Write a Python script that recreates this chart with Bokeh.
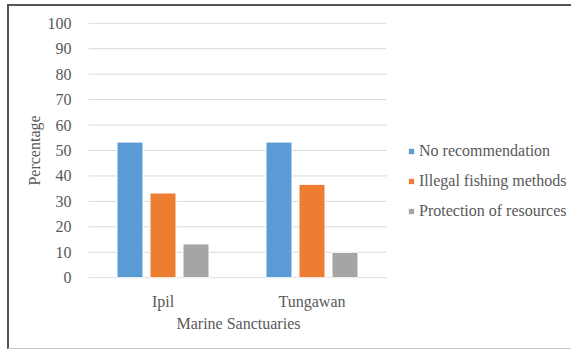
from bokeh.plotting import figure
from bokeh.models import (ColumnDataSource, Legend, LegendItem, Title,
                          SingleIntervalTicker, FixedTicker)
from bokeh.embed import file_html
from bokeh.resources import INLINE

# Data
sites = ["Ipil", "Tungawan"]
series_names = ["No recommendation", "Illegal fishing methods", "Protection of resources"]
no_recommendation = [53.3, 53.3]
illegal_fishing = [33.3, 36.7]
protection = [13.3, 10.0]
series_colors = ["#5B9BD5", "#ED7D31", "#A5A5A5"]
y_ticks = [0, 10, 20, 30, 40, 50, 60, 70, 80, 90, 100]

FONT = "Liberation Serif"
TEXT_COLOR = "#595959"
GRID_COLOR = "#D9D9D9"

n = len(sites)
centers = [i + 0.5 for i in range(n)]
bar_width = 0.1745
offsets = [-0.2215, 0.0, 0.2215]

source = ColumnDataSource(data=dict(
    x0=[c + offsets[0] for c in centers],
    x1=[c + offsets[1] for c in centers],
    x2=[c + offsets[2] for c in centers],
    s0=no_recommendation,
    s1=illegal_fishing,
    s2=protection,
))

# the plotting frame runs to the right edge so the legend sits inside it;
# the category band covers x in [0, n]
x_end = n * 485 / 298

p = figure(
    x_range=(0, x_end),
    y_range=(-0.3, 100.3),
    width=564, height=345,
    min_border_left=79, min_border_right=0,
    min_border_top=16, min_border_bottom=73,
    output_backend="svg", toolbar_location=None,
    background_fill_color="white", border_fill_color="white",
)
p.outline_line_color = None
# thin page frame around the chart
p.styles = {
    "margin-left": "7px",
    "margin-top": "4px",
    "border-top": "2px solid #555555",
    "border-left": "2px solid #555555",
    "border-bottom": "1px solid #C8C8C8",
}

# horizontal gridlines across the category band only
p.segment(x0=[0] * len(y_ticks), x1=[n] * len(y_ticks), y0=y_ticks, y1=y_ticks,
          line_color=GRID_COLOR, line_width=1)

renderers = []
for i, color in enumerate(series_colors):
    r = p.vbar(x=f"x{i}", top=f"s{i}", width=bar_width, bottom=0, source=source,
               fill_color=color, line_color="white", line_width=1)
    renderers.append(r)

p.xgrid.grid_line_color = None
p.ygrid.grid_line_color = None

# Y axis
p.yaxis.ticker = SingleIntervalTicker(interval=10)
p.yaxis.axis_line_color = None
p.yaxis.major_tick_line_color = None
p.yaxis.minor_tick_line_color = None
p.yaxis.major_tick_out = 0
p.yaxis.major_label_standoff = 13
p.yaxis.major_label_text_font = FONT
p.yaxis.major_label_text_font_size = "16px"
p.yaxis.major_label_text_color = TEXT_COLOR
p.yaxis.axis_label = "Percentage"
p.yaxis.axis_label_text_font = FONT
p.yaxis.axis_label_text_font_size = "16px"
p.yaxis.axis_label_text_font_style = "normal"
p.yaxis.axis_label_text_color = TEXT_COLOR
p.yaxis.axis_label_standoff = 2

# X axis: site names under each group
p.xaxis.ticker = FixedTicker(ticks=centers)
p.xaxis.major_label_overrides = {c: s for c, s in zip(centers, sites)}
p.xaxis.axis_line_color = None
p.xaxis.major_tick_line_color = None
p.xaxis.minor_tick_line_color = None
p.xaxis.major_tick_out = 0
p.xaxis.major_label_standoff = 14
p.xaxis.major_label_text_font = FONT
p.xaxis.major_label_text_font_size = "16px"
p.xaxis.major_label_text_color = TEXT_COLOR

# x-axis title centred under the category band
p.add_layout(Title(text="Marine Sanctuaries", align="left", offset=88,
                   text_font=FONT, text_font_size="16px", text_font_style="normal",
                   text_color=TEXT_COLOR, standoff=0), "below")

legend = Legend(
    items=[LegendItem(label=nm, renderers=[r]) for nm, r in zip(series_names, renderers)],
    location=(319, 58),
    orientation="vertical",
    glyph_width=8, glyph_height=8,
    label_standoff=4,
    spacing=12,
    padding=0, margin=0,
    border_line_color=None,
    background_fill_alpha=0,
    label_text_font=FONT,
    label_text_font_size="16px",
    label_text_color=TEXT_COLOR,
)
p.add_layout(legend, "center")

open("out.html", "w").write(file_html(p, INLINE))
